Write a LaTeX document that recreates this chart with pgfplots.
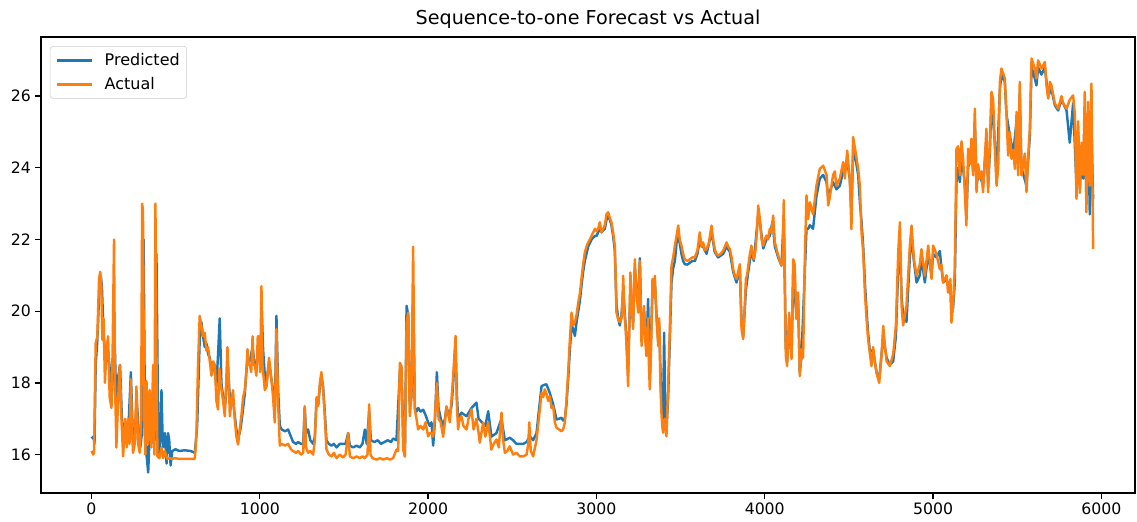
\documentclass[border=0pt]{standalone}
\usepackage{fontspec}
\setmainfont{DejaVu Sans}
\usepackage{pgfplots}
\pgfplotsset{compat=1.18}
\usetikzlibrary{calc}
\definecolor{mplBlue}{HTML}{1F77B4}
\definecolor{mplOrange}{HTML}{FF7F0E}

\begin{document}
\begin{tikzpicture}
\begin{axis}[
  scale only axis, width=787.7pt, height=328.3pt,
  xmin=-300, xmax=6200, ymin=14.93, ymax=27.65,
  xtick={0,1000,...,6000}, ytick={16,18,...,26},
  scaled ticks=false,
  /pgf/number format/assume math mode=true,
  /pgf/number format/1000 sep={},
  tick align=outside, major tick length=4pt,
  tick style={black, line width=0.9pt},
  axis line style={line width=0.9pt},
  xtick pos=bottom, ytick pos=left,
  tick label style={font=\fontsize{11.3}{13}\selectfont, inner sep=3pt},
  title={Sequence-to-one Forecast vs Actual},
  title style={font=\fontsize{13.8}{16}\selectfont, at={(0.5,1)}, anchor=base, yshift=3pt},
  legend style={at={(0.0082,0.980)}, anchor=north west, draw=black!20,
    rounded corners=2pt, fill=white, fill opacity=0.8, text opacity=1,
    font=\fontsize{11.5}{13}\selectfont, inner xsep=4pt, inner ysep=4pt, row sep=5pt,
    nodes={inner sep=1pt}},
  legend cell align=left,
  legend image code/.code={\draw[#1, line width=1.75pt] (0pt,0pt) -- (25.5pt,0pt); \path (32.5pt,0pt);},
  every axis plot/.append style={line width=1.75pt, line join=round},
]
% predicted (drawn first, under the actual series)
\addplot[mplBlue] coordinates {
(0,16.45)(12,16.5)(18,16.3)(25,18.5)(35,19.2)(45,20.4)(55,21.0)(62,20.7)(70,19.6)(80,18.7)
(90,18.6)(99,18.9)(110,18.3)(120,17.6)(130,18.5)(140,18.8)(150,16.9)(160,18.2)(170,18.5)(180,17.1)
(190,16.4)(200,16.9)(212,16.4)(222,17.0)(234,18.3)(245,16.6)(258,16.3)(268,17.6)(280,16.7)(290,16.2)
(300,16.6)(310,22.0)(316,18.0)(327,16.0)(337,15.5)(346,16.6)(356,16.3)(366,17.8)(376,16.4)(386,21.6)
(394,17.8)(402,16.0)(410,16.6)(416,17.8)(424,16.2)(436,16.6)(446,15.75)(455,16.6)(462,16.4)(470,15.7)
(480,16.1)(500,16.15)(520,16.1)(554,16.12)(590,16.1)(614,16.05)(628,16.8)(643,19.2)(653,19.7)(663,19.3)
(673,19.0)(683,19.1)(693,18.8)(703,18.7)(713,18.4)(723,18.5)(733,18.3)(742,17.9)(752,18.8)(762,19.8)
(772,18.0)(782,17.6)(792,17.3)(800,17.7)(810,18.5)(822,17.6)(832,17.6)(841,17.5)(851,17.1)(861,16.7)
(871,16.5)(881,16.6)(891,16.9)(901,17.3)(911,17.7)(920,18.3)(927,18.7)(941,18.6)(957,19.0)(970,18.5)
(980,18.5)(994,19.0)(1004,18.4)(1012,20.0)(1020,18.9)(1030,18.2)(1040,18.0)(1055,18.6)(1069,18.1)(1079,17.8)
(1089,17.1)(1099,19.87)(1109,17.8)(1119,16.8)(1130,16.7)(1150,16.65)(1168,16.7)(1185,16.5)(1198,16.35)(1215,16.3)
(1228,16.35)(1245,16.3)(1258,16.3)(1267,17.3)(1275,16.6)(1287,16.7)(1300,16.4)(1317,16.3)(1327,16.5)(1337,17.5)
(1347,17.4)(1357,17.9)(1366,18.2)(1376,17.9)(1386,17.2)(1396,16.4)(1410,16.3)(1426,16.25)(1440,16.3)(1456,16.2)
(1475,16.3)(1495,16.3)(1510,16.3)(1525,16.6)(1535,16.25)(1555,16.2)(1575,16.25)(1594,16.2)(1610,16.3)(1624,16.7)
(1635,16.3)(1650,17.2)(1660,16.4)(1680,16.35)(1700,16.4)(1720,16.3)(1740,16.35)(1760,16.4)(1780,16.35)(1792,16.45)
(1812,16.4)(1832,18.3)(1842,18.4)(1852,16.5)(1862,15.95)(1872,20.15)(1882,19.9)(1891,17.4)(1901,17.6)(1911,20.5)
(1921,17.3)(1931,17.2)(1941,17.3)(1955,17.2)(1971,17.25)(1985,17.1)(2000,16.9)(2010,16.8)(2020,16.9)(2030,16.25)
(2040,16.9)(2052,18.3)(2062,17.3)(2075,17.0)(2089,16.8)(2100,17.0)(2109,17.3)(2129,17.1)(2140,17.4)(2149,18.0)
(2163,19.1)(2170,17.8)(2178,17.0)(2198,17.17)(2228,17.07)(2258,17.3)(2287,17.45)(2300,17.0)(2320,16.9)(2340,16.8)
(2357,17.21)(2376,16.5)(2406,16.6)(2436,17.0)(2456,16.4)(2485,16.47)(2505,16.4)(2525,16.3)(2545,16.3)(2565,16.3)
(2585,16.35)(2604,16.51)(2624,16.4)(2644,16.6)(2660,17.3)(2674,17.91)(2693,17.95)(2703,17.96)(2723,17.72)(2743,17.4)
(2763,16.98)(2778,17.0)(2792,17.03)(2802,16.95)(2812,17.0)(2822,17.4)(2832,18.1)(2842,18.9)(2852,19.6)(2862,19.5)
(2872,19.31)(2882,19.7)(2892,20.0)(2902,20.3)(2911,20.7)(2921,21.1)(2931,21.4)(2941,21.6)(2951,21.8)(2961,21.9)
(2971,22.0)(2981,22.05)(2991,22.1)(3001,22.1)(3010,22.2)(3020,22.3)(3030,22.2)(3050,22.3)(3060,22.55)(3070,22.65)
(3080,22.55)(3089,22.4)(3099,22.1)(3109,21.7)(3119,20.2)(3129,19.8)(3139,19.6)(3149,19.9)(3159,20.6)(3175,19.5)
(3188,18.3)(3202,20.7)(3218,19.7)(3228,21.2)(3248,20.1)(3258,21.48)(3268,19.3)(3283,20.0)(3297,18.9)(3307,20.34)
(3317,18.1)(3333,20.6)(3347,20.8)(3357,19.9)(3367,19.2)(3373,19.6)(3386,17.4)(3396,16.8)(3402,19.4)(3410,17.0)
(3416,16.7)(3426,17.6)(3436,19.2)(3446,20.8)(3456,21.2)(3466,21.4)(3476,21.9)(3486,22.06)(3495,21.9)(3505,21.6)
(3515,21.4)(3525,21.31)(3540,21.3)(3555,21.35)(3570,21.4)(3585,21.4)(3600,21.6)(3614,22.0)(3634,21.8)(3654,21.6)
(3684,22.2)(3703,21.65)(3723,21.5)(3753,21.6)(3773,21.8)(3793,21.65)(3812,21.1)(3832,20.8)(3852,21.2)(3862,19.7)
(3872,19.3)(3888,20.6)(3902,21.1)(3921,21.7)(3935,21.4)(3961,22.7)(3971,22.5)(3991,21.75)(4010,22.0)(4030,22.1)
(4046,22.5)(4060,21.8)(4080,21.5)(4099,21.27)(4113,22.6)(4125,19.0)(4133,18.6)(4145,19.7)(4159,18.7)(4169,21.0)
(4188,19.9)(4198,20.3)(4208,18.3)(4218,18.7)(4238,21.1)(4248,22.3)(4258,22.3)(4268,22.4)(4287,22.3)(4307,23.2)
(4327,23.7)(4347,23.8)(4367,23.6)(4377,23.2)(4406,23.6)(4426,23.4)(4446,23.5)(4466,23.9)(4490,24.2)(4505,23.7)
(4515,22.8)(4525,24.5)(4541,24.2)(4555,23.8)(4565,23.04)(4575,22.5)(4585,21.8)(4595,20.8)(4605,20.0)(4614,19.4)
(4624,18.9)(4644,18.9)(4664,18.3)(4680,18.1)(4704,19.3)(4724,18.7)(4743,18.5)(4763,18.6)(4779,19.3)(4793,21.2)
(4803,22.0)(4813,20.4)(4822,19.9)(4842,19.7)(4862,21.5)(4872,22.1)(4886,21.4)(4902,20.8)(4921,21.0)(4931,21.5)
(4951,20.8)(4971,21.6)(4991,21.0)(5000,21.6)(5020,21.5)(5040,21.68)(5050,21.2)(5060,20.8)(5080,20.9)(5089,20.7)
(5103,20.7)(5109,19.9)(5119,20.1)(5129,20.8)(5139,23.6)(5149,24.0)(5159,23.6)(5169,24.3)(5188,23.6)(5198,22.6)
(5208,24.0)(5228,24.5)(5238,23.9)(5248,25.3)(5258,23.6)(5278,23.8)(5297,23.5)(5317,24.8)(5327,23.5)(5337,24.4)
(5347,25.9)(5367,24.7)(5377,23.7)(5397,26.2)(5406,26.6)(5426,26.4)(5436,25.5)(5456,24.9)(5476,24.4)(5496,25.3)
(5505,24.0)(5515,26.1)(5525,24.0)(5555,23.5)(5575,24.9)(5585,26.8)(5604,26.5)(5614,26.3)(5624,26.8)(5644,26.6)
(5664,26.8)(5684,26.0)(5703,26.2)(5723,25.75)(5743,25.6)(5763,25.9)(5793,25.6)(5812,24.7)(5832,25.8)(5852,23.5)
(5862,25.0)(5872,23.4)(5882,24.5)(5892,23.7)(5901,25.6)(5911,23.0)(5921,25.5)(5931,22.7)(5941,25.0)(5951,23.13)
};
\addlegendentry{Predicted}
% actual
\addplot[mplOrange] coordinates {
(0,16.1)(10,16.0)(15,16.05)(20,17.5)(25,19.1)(35,19.3)(45,20.9)(52,21.1)(58,20.8)(65,19.2)
(72,19.8)(80,18.0)(90,19.0)(99,19.3)(108,17.6)(119,17.3)(126,19.0)(134,22.0)(140,18.0)(148,16.2)
(158,17.5)(168,18.5)(178,17.0)(188,15.95)(200,17.0)(210,16.2)(218,17.0)(226,16.3)(234,18.1)(240,16.8)
(247,16.05)(257,16.3)(267,17.9)(277,16.3)(287,16.05)(295,17.0)(301,23.0)(306,22.8)(313,17.0)(320,16.0)
(327,18.05)(337,16.3)(346,17.8)(356,16.2)(366,18.5)(374,16.0)(380,23.0)(386,19.0)(392,15.95)(404,15.9)
(416,16.2)(426,15.9)(436,16.1)(450,15.88)(465,15.9)(480,15.88)(495,15.9)(520,15.88)(554,15.88)(590,15.88)
(614,15.88)(623,16.5)(633,18.5)(643,19.87)(653,19.6)(663,19.3)(673,19.4)(683,18.9)(693,19.0)(703,18.6)
(713,18.2)(723,18.6)(733,18.5)(742,17.5)(752,17.26)(760,18.4)(772,17.82)(782,17.5)(792,17.07)(800,18.0)
(808,19.0)(815,18.2)(822,17.07)(832,17.5)(841,17.8)(851,17.0)(861,16.5)(871,16.28)(881,16.7)(891,17.1)
(901,17.6)(911,17.8)(920,18.3)(927,18.94)(935,18.5)(941,18.5)(949,18.3)(957,19.3)(963,18.5)(970,18.5)
(980,18.2)(988,19.3)(994,19.3)(1002,18.3)(1010,20.7)(1016,18.5)(1030,17.8)(1040,17.9)(1055,18.7)(1069,18.1)
(1079,17.6)(1089,16.9)(1099,19.5)(1109,17.4)(1119,16.25)(1130,16.3)(1150,16.25)(1168,16.3)(1185,16.15)(1198,16.1)
(1215,16.05)(1228,16.1)(1245,16.0)(1258,16.05)(1267,17.35)(1275,16.2)(1287,16.05)(1300,16.1)(1317,16.0)(1327,16.4)
(1337,17.6)(1347,17.35)(1357,18.0)(1366,18.3)(1376,17.8)(1386,17.1)(1396,16.15)(1410,16.0)(1426,15.95)(1440,16.05)
(1456,15.9)(1475,16.0)(1495,15.92)(1510,16.0)(1525,16.6)(1535,15.95)(1555,15.9)(1575,15.95)(1594,15.9)(1610,15.95)
(1624,15.9)(1640,16.0)(1650,17.4)(1658,16.0)(1670,15.9)(1693,15.86)(1715,15.9)(1733,15.86)(1755,15.9)(1773,15.86)
(1792,15.9)(1812,16.14)(1822,16.1)(1832,18.56)(1842,18.47)(1852,16.14)(1862,15.95)(1872,19.68)(1882,19.96)(1891,17.07)
(1901,17.63)(1911,21.8)(1921,17.26)(1931,17.0)(1941,16.7)(1955,16.8)(1971,16.7)(1985,16.9)(2000,16.51)(2010,16.6)
(2020,16.6)(2030,16.5)(2040,17.0)(2052,18.0)(2062,17.0)(2075,16.9)(2089,16.5)(2100,16.9)(2109,17.35)(2120,17.1)
(2129,16.9)(2140,17.6)(2149,18.19)(2163,19.31)(2170,17.5)(2178,16.7)(2188,17.0)(2198,17.07)(2210,16.8)(2228,16.7)
(2240,17.0)(2258,17.26)(2270,16.7)(2287,17.0)(2300,16.6)(2307,16.33)(2320,16.7)(2327,16.89)(2340,16.5)(2357,16.9)
(2376,16.14)(2390,16.3)(2406,16.42)(2420,16.2)(2436,17.17)(2446,16.4)(2456,16.05)(2470,16.1)(2485,16.23)(2505,16.0)
(2525,16.05)(2545,15.95)(2565,15.95)(2585,16.0)(2595,16.3)(2601,16.9)(2610,16.1)(2624,15.95)(2644,16.4)(2660,17.1)
(2674,17.72)(2684,17.6)(2693,17.82)(2703,17.7)(2713,17.5)(2723,17.63)(2733,17.3)(2743,17.35)(2753,16.9)(2763,16.75)
(2778,16.7)(2792,16.65)(2802,16.7)(2812,16.89)(2822,17.5)(2832,18.28)(2842,19.2)(2852,19.96)(2862,19.6)(2872,19.7)
(2882,19.9)(2892,20.24)(2902,20.5)(2911,20.9)(2921,21.3)(2931,21.64)(2941,21.8)(2951,21.92)(2961,22.0)(2971,22.1)
(2981,22.2)(2991,22.3)(3001,22.23)(3010,22.3)(3020,22.48)(3030,22.2)(3040,22.3)(3050,22.4)(3060,22.71)(3070,22.76)
(3080,22.6)(3089,22.48)(3099,22.2)(3109,21.83)(3114,21.0)(3119,19.96)(3129,19.78)(3139,19.7)(3149,19.8)(3154,20.2)
(3159,20.99)(3167,19.9)(3175,19.4)(3182,18.7)(3188,17.91)(3195,19.5)(3202,21.08)(3210,20.1)(3218,19.5)(3228,21.45)
(3238,20.5)(3248,19.96)(3258,21.4)(3268,19.03)(3275,19.5)(3283,20.15)(3290,19.2)(3297,18.75)(3307,19.8)(3312,18.5)
(3317,17.82)(3325,19.0)(3333,20.9)(3340,20.4)(3347,20.99)(3357,19.78)(3367,19.03)(3373,19.8)(3380,18.0)(3386,17.17)
(3391,16.8)(3396,16.61)(3406,17.0)(3416,16.51)(3426,17.91)(3436,19.5)(3446,21.27)(3456,21.5)(3466,21.83)(3476,22.1)
(3486,22.39)(3495,22.0)(3505,21.83)(3515,21.6)(3525,21.45)(3540,21.4)(3555,21.45)(3570,21.5)(3585,21.5)(3600,21.7)
(3614,22.2)(3624,21.8)(3634,21.92)(3644,21.7)(3654,21.73)(3668,21.9)(3684,22.39)(3693,22.0)(3703,21.73)(3713,21.6)
(3723,21.55)(3738,21.6)(3753,21.69)(3763,21.8)(3773,21.92)(3783,21.8)(3793,21.73)(3803,21.5)(3812,21.17)(3822,21.0)
(3832,20.9)(3842,21.1)(3852,21.31)(3862,19.5)(3872,19.22)(3880,20.0)(3888,20.9)(3895,21.0)(3902,21.27)(3912,21.6)
(3921,21.83)(3928,21.6)(3935,21.45)(3945,21.7)(3955,22.3)(3961,22.95)(3971,22.57)(3981,22.0)(3991,21.83)(4000,22.0)
(4010,22.11)(4020,22.0)(4030,22.3)(4040,22.2)(4050,22.67)(4060,21.92)(4080,21.55)(4099,21.27)(4106,21.5)(4113,23.1)
(4119,21.0)(4125,18.75)(4133,18.47)(4145,19.96)(4159,18.66)(4169,21.45)(4178,21.3)(4188,19.78)(4198,20.52)(4208,18.19)
(4218,18.94)(4228,18.7)(4238,21.45)(4248,23.23)(4258,22.57)(4268,23.04)(4287,22.7)(4307,23.5)(4327,23.97)(4347,24.06)
(4367,23.8)(4377,22.95)(4387,23.2)(4406,23.8)(4416,23.9)(4426,23.5)(4446,23.7)(4466,24.16)(4476,23.7)(4490,24.48)
(4505,23.7)(4515,22.29)(4525,24.86)(4541,24.4)(4555,23.97)(4565,23.5)(4575,22.2)(4585,21.64)(4595,20.52)(4605,19.78)
(4614,19.22)(4624,18.84)(4634,18.47)(4644,19.0)(4654,18.6)(4664,18.28)(4680,18.0)(4694,18.8)(4704,19.59)(4714,19.0)
(4724,18.6)(4743,18.47)(4763,18.8)(4779,19.6)(4793,21.64)(4803,22.48)(4813,20.15)(4822,19.6)(4842,20.15)(4862,21.83)
(4872,22.39)(4886,21.45)(4902,20.99)(4921,21.3)(4931,21.73)(4951,20.99)(4971,21.83)(4991,20.9)(5000,21.83)(5020,21.6)
(5040,21.17)(5050,21.3)(5060,20.8)(5080,21.0)(5089,20.52)(5103,20.9)(5109,19.68)(5119,20.2)(5129,21.2)(5139,24.53)
(5149,24.6)(5159,23.79)(5169,24.74)(5179,24.2)(5188,23.41)(5198,22.39)(5208,24.53)(5218,24.1)(5228,24.81)(5238,23.79)
(5248,25.65)(5258,23.32)(5268,24.1)(5278,23.7)(5287,23.9)(5297,23.32)(5317,25.09)(5327,23.32)(5337,24.6)(5347,26.12)
(5357,25.9)(5367,24.6)(5377,23.5)(5387,24.0)(5397,26.4)(5406,26.77)(5426,26.5)(5436,25.5)(5446,24.34)(5456,25.0)
(5466,24.25)(5476,24.5)(5486,23.97)(5496,25.56)(5505,23.79)(5515,26.4)(5525,23.79)(5545,24.4)(5555,23.32)(5565,24.3)
(5575,25.1)(5585,27.05)(5604,26.77)(5614,26.49)(5624,27.0)(5644,26.77)(5664,26.95)(5674,26.3)(5684,25.93)(5694,26.4)
(5703,26.3)(5723,25.8)(5743,25.65)(5763,26.0)(5773,25.8)(5793,25.65)(5812,25.9)(5832,26.02)(5842,25.5)(5852,23.13)
(5862,25.3)(5872,23.3)(5882,24.7)(5892,23.8)(5901,26.12)(5911,22.76)(5921,25.84)(5931,23.5)(5941,26.35)(5951,21.73)
};
\addlegendentry{Actual}
\end{axis}
\pgfresetboundingbox
\path[use as bounding box] ($(current axis.south west)+(-29.5pt,-20.9pt)$) rectangle ($(current axis.north east)+(1.4pt,26.6pt)$);
\end{tikzpicture}
\end{document}
